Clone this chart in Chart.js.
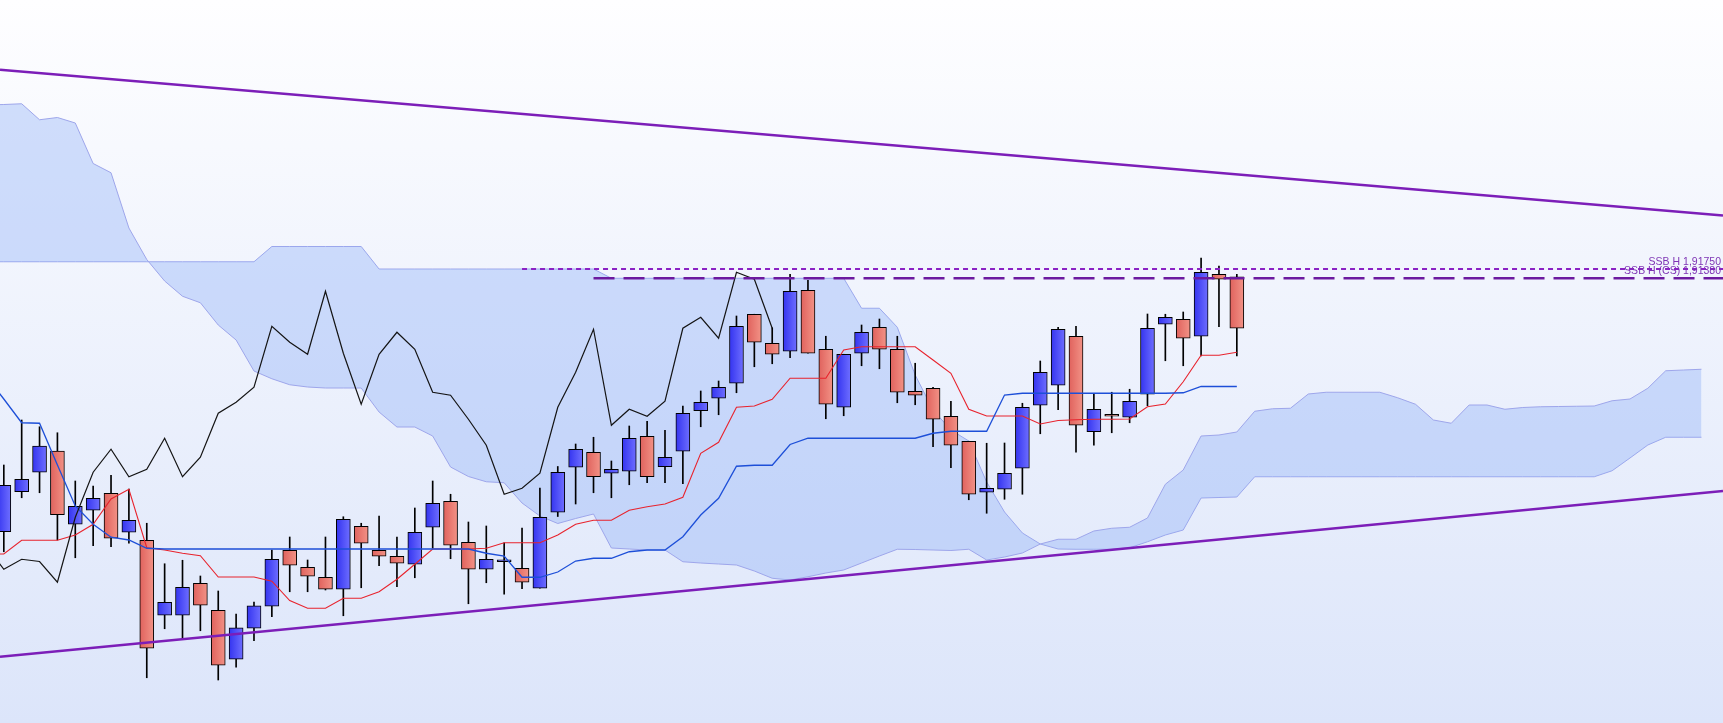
<!DOCTYPE html>
<html>
<head>
<meta charset="utf-8">
<script src="https://cdn.jsdelivr.net/npm/chart.js@4.4.1/dist/chart.umd.min.js"></script>
<style>
  html, body { margin: 0; padding: 0; overflow: hidden; background: #fff; }
  #wrap { width: 1723px; height: 723px; position: relative; }
</style>
</head>
<body>
<div id="wrap"><canvas id="chart"></canvas></div>
<script>
// visible bar range (bar index at left and right edge of the plot)
const viewMin = -0.213;
const viewMax = 96.206;

// candles, bar 0..69
const opens = [1.8124, 1.8284, 1.8362, 1.8447, 1.8154, 1.8210, 1.8278, 1.8122, 1.8090, 1.7790,
  1.7790, 1.7918, 1.7810, 1.7614, 1.7738, 1.7826, 1.8050, 1.7982, 1.7942, 1.7894,
  1.8146, 1.8050, 1.8026, 1.7994, 1.8142, 1.8246, 1.8082, 1.7974, 1.8004, 1.7978,
  1.7898, 1.8202, 1.8382, 1.8442, 1.8358, 1.8366, 1.8506, 1.8384, 1.8446, 1.8608,
  1.8658, 1.8718, 1.8994, 1.8878, 1.8846, 1.9090, 1.8854, 1.8622, 1.8838, 1.8942,
  1.8854, 1.8686, 1.8698, 1.8586, 1.8486, 1.8282, 1.8294, 1.8378, 1.8630, 1.8710,
  1.8906, 1.8524, 1.8594, 1.8582, 1.8674, 1.8954, 1.8974, 1.8906, 1.9154, 1.9144];
const highs = [1.8391, 1.8571, 1.8544, 1.8520, 1.8327, 1.8307, 1.8350, 1.8295, 1.8158, 1.7996,
  1.8010, 1.7947, 1.7887, 1.7795, 1.7843, 1.8051, 1.8103, 1.8011, 1.8103, 1.8184,
  1.8158, 1.8187, 1.8103, 1.8219, 1.8327, 1.8274, 1.8163, 1.8147, 1.8080, 1.8139,
  1.8299, 1.8385, 1.8475, 1.8502, 1.8407, 1.8547, 1.8566, 1.8530, 1.8627, 1.8687,
  1.8727, 1.8987, 1.8994, 1.8940, 1.9154, 1.9130, 1.8906, 1.8834, 1.8951, 1.8975,
  1.8906, 1.8798, 1.8702, 1.8646, 1.8486, 1.8478, 1.8479, 1.8638, 1.8807, 1.8942,
  1.8946, 1.8678, 1.8682, 1.8694, 1.8995, 1.8994, 1.9003, 1.9219, 1.9187, 1.9154];
const lows = [1.8044, 1.8260, 1.8280, 1.8091, 1.8020, 1.8068, 1.8064, 1.8078, 1.7540, 1.7736,
  1.7698, 1.7728, 1.7531, 1.7582, 1.7688, 1.7784, 1.7884, 1.7884, 1.7891, 1.7788,
  1.7900, 1.7988, 1.7904, 1.7940, 1.8058, 1.8016, 1.7836, 1.7920, 1.7874, 1.7896,
  1.7898, 1.8185, 1.8235, 1.8280, 1.8260, 1.8312, 1.8320, 1.8320, 1.8316, 1.8544,
  1.8592, 1.8680, 1.8784, 1.8796, 1.8820, 1.8838, 1.8576, 1.8588, 1.8788, 1.8776,
  1.8640, 1.8632, 1.8464, 1.8380, 1.8252, 1.8198, 1.8254, 1.8274, 1.8516, 1.8612,
  1.8442, 1.8470, 1.8520, 1.8560, 1.8628, 1.8808, 1.8788, 1.8827, 1.8944, 1.8827];
const closes = [1.8310, 1.8334, 1.8467, 1.8192, 1.8226, 1.8258, 1.8098, 1.8170, 1.7658, 1.7842,
  1.7902, 1.7830, 1.7590, 1.7740, 1.7828, 1.8014, 1.7990, 1.7946, 1.7894, 1.8174,
  1.8078, 1.8026, 1.7998, 1.8122, 1.8238, 1.8070, 1.7974, 1.8014, 1.8005, 1.7922,
  1.8182, 1.8362, 1.8454, 1.8344, 1.8374, 1.8498, 1.8344, 1.8422, 1.8598, 1.8642,
  1.8702, 1.8946, 1.8882, 1.8834, 1.9086, 1.8838, 1.8634, 1.8834, 1.8922, 1.8854,
  1.8682, 1.8670, 1.8574, 1.8470, 1.8274, 1.8298, 1.8358, 1.8622, 1.8762, 1.8934,
  1.8550, 1.8614, 1.8586, 1.8646, 1.8938, 1.8982, 1.8898, 1.9162, 1.9134, 1.8938];

// ichimoku lines start one bar left of the view (bar -1)
const lineStart = -1;
const tenkan = [1.8035, 1.8035, 1.8090, 1.8090, 1.8090, 1.8111, 1.8154, 1.8255, 1.8294, 1.8060, 1.8051,
  1.8038, 1.8028, 1.7943, 1.7943, 1.7943, 1.7926, 1.7849, 1.7818, 1.7818, 1.7858,
  1.7858, 1.7884, 1.7934, 1.7994, 1.8055, 1.8055, 1.8055, 1.8058, 1.8080, 1.8080,
  1.8080, 1.8111, 1.8154, 1.8170, 1.8170, 1.8210, 1.8224, 1.8235, 1.8262, 1.8438,
  1.8482, 1.8622, 1.8627, 1.8654, 1.8738, 1.8738, 1.8738, 1.8851, 1.8864, 1.8864,
  1.8864, 1.8864, 1.8811, 1.8758, 1.8614, 1.8587, 1.8587, 1.8587, 1.8555, 1.8569,
  1.8572, 1.8574, 1.8574, 1.8575, 1.8624, 1.8635, 1.8724, 1.8830, 1.8830, 1.8842];
const kijun = [1.8747, 1.8655, 1.8560, 1.8558, 1.8391, 1.8227, 1.8154, 1.8102, 1.8091, 1.8058, 1.8055,
  1.8055, 1.8055, 1.8055, 1.8055, 1.8055, 1.8055, 1.8055, 1.8055, 1.8055, 1.8055,
  1.8055, 1.8055, 1.8055, 1.8055, 1.8055, 1.8055, 1.8055, 1.8038, 1.8027, 1.7942,
  1.7942, 1.7963, 1.8007, 1.8018, 1.8018, 1.8044, 1.8051, 1.8051, 1.8104, 1.8191,
  1.8258, 1.8386, 1.8390, 1.8390, 1.8473, 1.8498, 1.8498, 1.8498, 1.8498, 1.8498,
  1.8498, 1.8498, 1.8518, 1.8526, 1.8526, 1.8526, 1.8671, 1.8678, 1.8678, 1.8678,
  1.8678, 1.8678, 1.8678, 1.8678, 1.8678, 1.8678, 1.8680, 1.8705, 1.8705, 1.8705];
// lagging line: the closes drawn 26 bars back, from close 25 onward
const chikouShift = 26;
const chikouFrom = 25;

// cloud, bar -1..95
const spanA = [1.9831, 1.9833, 1.9836, 1.9772, 1.9781, 1.9759, 1.9597, 1.9560, 1.9339, 1.9213, 1.9127,
  1.9066, 1.9040, 1.8951, 1.8891, 1.8767, 1.8736, 1.8712, 1.8703, 1.8699, 1.8699,
  1.8699, 1.8603, 1.8543, 1.8543, 1.8507, 1.8383, 1.8345, 1.8324, 1.8320, 1.8239,
  1.8187, 1.8157, 1.8177, 1.8195, 1.8059, 1.8055, 1.8051, 1.8051, 1.8004, 1.7999,
  1.7995, 1.7991, 1.7967, 1.7938, 1.7931, 1.7944, 1.7959, 1.7971, 1.7999, 1.8027,
  1.8054, 1.8053, 1.8051, 1.8049, 1.8054, 1.8011, 1.8023, 1.8039, 1.8075, 1.8094,
  1.8094, 1.8127, 1.8138, 1.8142, 1.8179, 1.8314, 1.8371, 1.8507, 1.8511, 1.8523,
  1.8606, 1.8616, 1.8618, 1.8675, 1.8682, 1.8682, 1.8682, 1.8682, 1.8660, 1.8634,
  1.8571, 1.8558, 1.8631, 1.8631, 1.8614, 1.8621, 1.8624, 1.8625, 1.8626, 1.8627,
  1.8648, 1.8655, 1.8698, 1.8768, 1.8771, 1.8774];
const spanB = [1.9204, 1.9204, 1.9204, 1.9204, 1.9204, 1.9204, 1.9204, 1.9204, 1.9204, 1.9204, 1.9204,
  1.9204, 1.9204, 1.9204, 1.9204, 1.9204, 1.9265, 1.9265, 1.9265, 1.9265, 1.9265,
  1.9265, 1.9175, 1.9175, 1.9175, 1.9175, 1.9175, 1.9175, 1.9175, 1.9175, 1.9175,
  1.9175, 1.9175, 1.9175, 1.9175, 1.9138, 1.9138, 1.9138, 1.9138, 1.9138, 1.9138,
  1.9138, 1.9138, 1.9138, 1.9138, 1.9138, 1.9138, 1.9138, 1.9138, 1.9018, 1.9018,
  1.8942, 1.8751, 1.8611, 1.8531, 1.8487, 1.8323, 1.8203, 1.8119, 1.8075, 1.8055,
  1.8054, 1.8054, 1.8054, 1.8060, 1.8084, 1.8111, 1.8131, 1.8259, 1.8261, 1.8263,
  1.8344, 1.8344, 1.8344, 1.8344, 1.8344, 1.8344, 1.8344, 1.8344, 1.8344, 1.8344,
  1.8344, 1.8344, 1.8344, 1.8344, 1.8344, 1.8344, 1.8344, 1.8344, 1.8344, 1.8344,
  1.8368, 1.8419, 1.8471, 1.8502, 1.8502, 1.8502];

// horizontal SSB levels
const levelValues = [1.9175, 1.9138];
const levelStarts = [29, 33];
const levelLabels = ["SSB H 1,91750", "SSB H (CS) 1,91380"];

// trend lines, price at the left and right edge of the view
const trendUpper = [1.9972, 1.9389];
const trendLower = [1.7624, 1.8287];

const priceMin = 1.7359;
const priceMax = 2.0251;

function series(start, values) {
  return values.map((v, k) => ({ x: start + k, y: v }));
}

function bodyFill(ctx) {
  const i = ctx.dataIndex;
  const up = closes[i] >= opens[i];
  const chart = ctx.chart;
  const xs = chart.scales && chart.scales.x;
  if (!xs || !chart.chartArea) return up ? "#4d4dfb" : "#e97870";
  const cx = xs.getPixelForValue(i);
  const g = chart.ctx.createLinearGradient(cx - 7, 0, cx + 7, 0);
  if (up) {
    g.addColorStop(0, "#3434f0");
    g.addColorStop(1, "#6e6eff");
  } else {
    g.addColorStop(0, "#e0625d");
    g.addColorStop(1, "#f29286");
  }
  return g;
}

const backdrop = {
  id: "backdrop",
  beforeDraw(chart) {
    const { ctx, width, height } = chart;
    const g = ctx.createLinearGradient(0, 0, 0, height);
    g.addColorStop(0, "#fefeff");
    g.addColorStop(1, "#dce5fa");
    ctx.save();
    ctx.fillStyle = g;
    ctx.fillRect(0, 0, width, height);
    ctx.restore();
  }
};

const levelText = {
  id: "levelText",
  afterDatasetsDraw(chart) {
    const { ctx } = chart;
    const ys = chart.scales.y;
    ctx.save();
    ctx.font = '10.5px "Liberation Sans", Arial, sans-serif';
    ctx.fillStyle = "#7e34b4";
    ctx.textAlign = "right";
    ctx.textBaseline = "alphabetic";
    levelValues.forEach((v, k) => {
      ctx.fillText(levelLabels[k], chart.chartArea.right - 2, ys.getPixelForValue(v) - 4);
    });
    ctx.restore();
  }
};

const lineBase = { type: "line", pointRadius: 0, tension: 0, fill: false };

new Chart(document.getElementById("chart"), {
  type: "line",
  data: {
    datasets: [
      { ...lineBase, data: series(lineStart, spanA), borderColor: "#9ea6eb", borderWidth: 1,
        fill: "+1", backgroundColor: "rgba(146, 178, 247, 0.40)", order: 6 },
      { ...lineBase, data: series(lineStart, spanB), borderColor: "#9ea6eb", borderWidth: 1, order: 6 },
      {
        type: "bar",
        data: lows.map((l, i) => ({ x: i, y: [l, highs[i]] })),
        backgroundColor: "#000000",
        barThickness: 1,
        grouped: false,
        order: 4
      },
      {
        type: "bar",
        data: opens.map((o, i) => ({ x: i, y: [o, closes[i]] })),
        backgroundColor: bodyFill,
        borderColor: "#000000",
        borderWidth: 1,
        borderSkipped: false,
        barThickness: 14,
        minBarLength: 2,
        grouped: false,
        order: 3
      },
      { ...lineBase, data: series(chikouFrom - chikouShift, closes.slice(chikouFrom)), borderColor: "#141414", borderWidth: 1.2, order: 2 },
      { ...lineBase, data: series(lineStart, kijun), borderColor: "#1d4fd8", borderWidth: 1.3, order: 2 },
      { ...lineBase, data: series(lineStart, tenkan), borderColor: "#e8232d", borderWidth: 1.1, order: 2 },
      { ...lineBase, data: [{ x: levelStarts[0], y: levelValues[0] }, { x: viewMax, y: levelValues[0] }],
        borderColor: "#8a22c4", borderWidth: 2, borderDash: [5, 4], order: 1 },
      { ...lineBase, data: [{ x: levelStarts[1], y: levelValues[1] }, { x: viewMax, y: levelValues[1] }],
        borderColor: "#6c1a9f", borderWidth: 2.3, borderDash: [21, 9], order: 1 },
      { ...lineBase, data: [{ x: viewMin, y: trendUpper[0] }, { x: viewMax, y: trendUpper[1] }],
        borderColor: "#7c1eb8", borderWidth: 2.4, order: 0 },
      { ...lineBase, data: [{ x: viewMin, y: trendLower[0] }, { x: viewMax, y: trendLower[1] }],
        borderColor: "#7c1eb8", borderWidth: 2.4, order: 0 }
    ]
  },
  options: {
    responsive: true,
    maintainAspectRatio: false,
    animation: false,
    events: [],
    layout: { padding: 0 },
    plugins: {
      legend: { display: false },
      tooltip: { enabled: false }
    },
    scales: {
      x: { type: "linear", min: viewMin, max: viewMax, offset: false, display: false },
      y: { type: "linear", min: priceMin, max: priceMax, display: false }
    }
  },
  plugins: [backdrop, levelText]
});
</script>
</body>
</html>
